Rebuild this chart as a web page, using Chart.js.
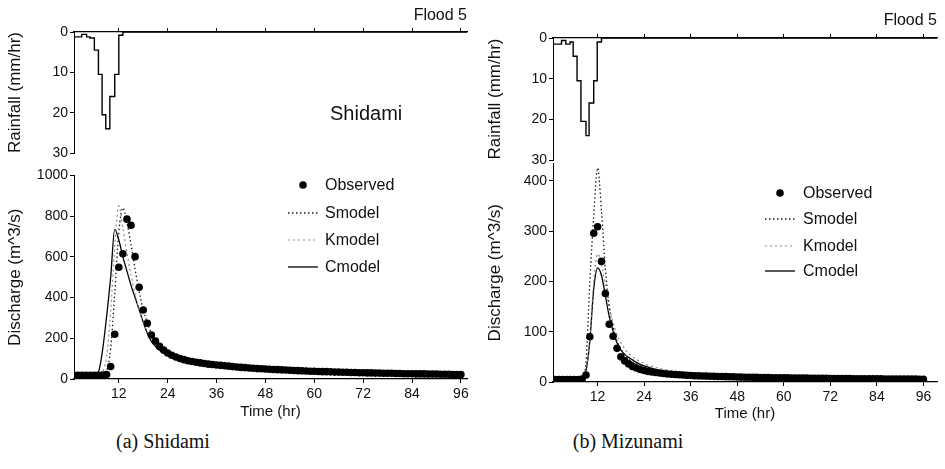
<!DOCTYPE html>
<html><head><meta charset="utf-8">
<script src="https://cdn.jsdelivr.net/npm/chart.js@4.4.1/dist/chart.umd.min.js"></script>
<style>
body{margin:0;background:#fff;width:945px;height:469px;overflow:hidden;position:relative;font-family:"Liberation Sans",Arial,sans-serif;color:#111;}
canvas{position:absolute;}
.t{position:absolute;white-space:nowrap;line-height:1;}
.cap{font-family:"Liberation Serif","DejaVu Serif",serif;font-size:20px;transform:translateX(-50%);}
</style></head><body>
<canvas id="rainA" width="480" height="165" style="left:0;top:0"></canvas>
<canvas id="flowA" width="480" height="260" style="left:0;top:165px"></canvas>
<canvas id="rainB" width="465" height="172" style="left:480px;top:0"></canvas>
<canvas id="flowB" width="465" height="275" style="left:480px;top:150px"></canvas>
<div class="t" style="right:478px;top:7px;font-size:16px">Flood 5</div>
<div class="t" style="right:8px;top:12px;font-size:16px">Flood 5</div>
<div class="t" style="left:330px;top:103px;font-size:20px">Shidami</div>
<div class="t cap" style="left:163px;top:431px">(a) Shidami</div>
<div class="t cap" style="left:628px;top:431px">(b) Mizunami</div>
<script>
// ---------------- data ----------------
const timeTicks = [12, 24, 36, 48, 60, 72, 84, 96];
const rainTicks = [0, 10, 20, 30];
const flowTicksA = [0, 200, 400, 600, 800, 1000];
const flowTicksB = [0, 100, 200, 300, 400];

// Rainfall hyetographs (start time of each step, mm/hr)
const rainTimeA = [0, 2.9, 4.1, 4.9, 6.0, 7.0, 7.9, 8.8, 9.8, 11.0, 12.0, 13.0, 13.9, 97.5];
const rainA     = [0, 1.2, 0.6, 1.2, 1.5, 4.5, 10.5, 20.5, 24, 16, 10.5, 0.8, 0, 0];
const rainTimeB = [0, 2.7, 3.8, 4.9, 5.7, 6.7, 7.7, 9.0, 9.8, 11.0, 11.9, 13.0, 14.1, 99.5];
const rainB     = [0, 1.5, 0.6, 1.5, 1.0, 4.5, 10.5, 20.5, 24, 16, 10.5, 1.0, 0, 0];

// Observed discharge, hourly 0..96
const obsHours = Array.from({length: 97}, (_, i) => i);
const obsA = [18,18,18,18,18,18,18,18,19,
  22,61,220,549,615,785,755,601,451,339,274,216,187,160,142,
  128,117,108,101,95,90,86,82,79,76,73,71,69,
  67,65,63,61,59,57,56,54,53,51,50,49,
  48,47,46,45,44,43,42,41,40,39,38,38,
  37,36,36,35,34,34,33,33,32,32,31,31,
  30,30,29,29,28,28,28,27,27,26,26,26,
  25,25,25,24,24,24,23,23,23,22,22,22];
const obsB = [5,5,5,5,5,5,5,5,6,
  14,90,296,309,240,176,115,91,67,50,42,36,31,28,25,
  23,21,20,19,18,17,16,15.5,15,14.5,14,13.5,13,
  12.5,12.2,12,11.7,11.5,11.2,11,10.8,10.6,10.4,10.2,10,
  9.8,9.6,9.5,9.3,9.2,9,8.9,8.8,8.6,8.5,8.4,8.3,
  8.2,8.1,8,7.9,7.8,7.7,7.6,7.5,7.4,7.3,7.2,7.1,
  7,6.9,6.9,6.8,6.7,6.6,6.6,6.5,6.4,6.4,6.3,6.2,
  6.2,6.1,6,6,5.9,5.9,5.8,5.8,5.7,5.7,5.6,5.6];

// Model hydrographs
const modelHours = [0,2,4,6,7,8,9,10,11,12,13,14,15,16,17,18,19,20,21,22,23,24,26,28,30,33,36,40,44,48,54,60,66,72,78,84,90,96];
const smodelA = [18,18,18,18, 18,20,40,150,420,720,840,770,660,540,430,340,275,225,190,163,143,128, 106,93,84,74,66, 58,52,47, 41,36,32,29,26,24,22,20];
const kmodelA = [18,18,18,18, 20,35,110,330,650,850,740,620,510,415,340,280,232,196,170,150,135,122, 103,91,82,72,65, 57,51,46, 40,35,31,28,26,24,22,20];
const cmodelA = [20,20,20,24, 35,140,306,500,735,683,600,530,460,400,340,280,225,185,160,141,127,116, 99,88,80,70,63, 55,49,44, 38,34,30,27,24,22,20,19];
const smodelB = [5,5,5,5, 5,7,40,200,330,426,340,225,150,108,82,65,54,46,40,36,32,29, 25,22,19,16.5,15, 13,12,11, 10,9,8.2,7.6,7,6.5,6,5.6];
const kmodelB = [5,5,5,5, 5,6,20,90,200,255,235,190,150,118,95,78,66,57,50,45,41,37, 31,27,24,20,17.5, 15,13.5,12, 10.8,9.8,9,8.2,7.5,7,6.5,6];
const cmodelB = [5,5,5,5, 6,8,22,82,185,227,212,172,130,101,78,64,55,49,44,39,35,32, 27,23,20,17.5,15.5, 13.8,12.5,11.5, 10.3,9.4,8.6,7.9,7.3,6.7,6.2,5.8];
const seriesNames = ['Observed', 'Smodel', 'Kmodel', 'Cmodel'];

// ---------------- helpers ----------------
Chart.defaults.font.family = "'Liberation Sans', Arial, Helvetica, sans-serif";
Chart.defaults.color = '#111';
Chart.defaults.animation = false;

const pts = (xs, ys) => xs.map((x, i) => ({x, y: ys[i]}));
const STYLE = {
  Observed: {showLine: false, pointRadius: 3.8, pointBackgroundColor: '#000', pointBorderWidth: 0},
  Smodel: {showLine: true, pointRadius: 0, borderColor: '#1a1a1a', borderWidth: 1.3, borderDash: [1.5, 2.5], cubicInterpolationMode: 'monotone'},
  Kmodel: {showLine: true, pointRadius: 0, borderColor: '#8a8a8a', borderWidth: 1.2, borderDash: [2, 3], cubicInterpolationMode: 'monotone'},
  Cmodel: {showLine: true, pointRadius: 0, borderColor: '#000', borderWidth: 1.3, borderDash: [], cubicInterpolationMode: 'monotone'}
};

function yAxis(min, max, ticks, title, areaLeft, reverse) {
  return {
    type: 'linear', position: 'left', min, max, reverse: !!reverse,
    afterBuildTicks: s => { s.ticks = ticks.map(v => ({value: v})); },
    afterFit: s => { s.width = areaLeft; },
    border: {display: true, color: '#000', width: 1},
    grid: {display: true, drawOnChartArea: false, drawTicks: true, tickLength: 4, color: '#000', lineWidth: 1},
    ticks: {padding: 2, font: {size: 14}, color: '#111', autoSkip: false, callback: v => String(v)},
    title: {display: true, text: title, font: {size: 17}, color: '#111', padding: {top: 5, bottom: 0}}
  };
}
function xAxis(min, max, position, height, showLabels, titleBottom) {
  return {
    type: 'linear', position, min, max,
    afterBuildTicks: s => { s.ticks = timeTicks.map(v => ({value: v})); },
    afterFit: s => { s.height = height; },
    border: {display: true, color: '#000', width: 1.2},
    grid: {display: true, drawOnChartArea: false, drawTicks: true, tickLength: 4, color: '#000', lineWidth: 1},
    ticks: {display: showLabels, padding: 3, font: {size: 14}, color: '#111', maxRotation: 0, autoSkip: false, callback: v => String(v)},
    title: {display: showLabels, text: 'Time (hr)', font: {size: 15}, color: '#111', padding: {top: 0, bottom: titleBottom || 4}}
  };
}

const legendPlugin = {
  id: 'inlineLegend',
  afterDatasetsDraw(chart, args, o) {
    if (!o || !o.ys) return;
    const ctx = chart.ctx;
    ctx.save();
    ctx.font = "16px 'Liberation Sans', Arial, sans-serif";
    ctx.fillStyle = '#111';
    ctx.textBaseline = 'middle';
    seriesNames.forEach((name, i) => {
      const y = o.ys[i], st = STYLE[name];
      if (name === 'Observed') {
        ctx.beginPath(); ctx.fillStyle = '#000';
        ctx.arc((o.x0 + o.x1) / 2, y, 3.8, 0, Math.PI * 2); ctx.fill();
      } else {
        ctx.beginPath(); ctx.setLineDash(st.borderDash); ctx.strokeStyle = st.borderColor; ctx.lineWidth = st.borderWidth;
        ctx.moveTo(o.x0, y); ctx.lineTo(o.x1, y); ctx.stroke(); ctx.setLineDash([]);
      }
      ctx.fillStyle = '#111';
      ctx.fillText(name, o.tx, y + 1);
    });
    ctx.restore();
  }
};

function rainChart(id, times, vals, w, h, area, xmin, xmax) {
  return new Chart(document.getElementById(id), {
    type: 'scatter',
    data: {datasets: [{data: pts(times, vals), showLine: true, stepped: 'after', pointRadius: 0, borderColor: '#000', borderWidth: 1.4}]},
    options: {
      responsive: false, animation: false,
      layout: {padding: {left: 0, top: 0, right: w - area.r, bottom: h - area.b}},
      plugins: {legend: {display: false}, tooltip: {enabled: false}},
      scales: {
        x: xAxis(xmin, xmax, 'top', area.t, false),
        y: yAxis(0, 30, rainTicks, 'Rainfall (mm/hr)', area.l, true)
      }
    }
  });
}
function flowChart(id, obs, s, k, c, ymax, yticks, w, h, area, xmin, xmax, legend, titleBottom) {
  const data = {Observed: pts(obsHours, obs), Smodel: pts(modelHours, s), Kmodel: pts(modelHours, k), Cmodel: pts(modelHours, c)};
  return new Chart(document.getElementById(id), {
    type: 'scatter',
    data: {datasets: seriesNames.map(n => Object.assign({label: n, data: data[n]}, STYLE[n]))},
    options: {
      responsive: false, animation: false,
      layout: {padding: {left: 0, top: area.t, right: w - area.r, bottom: 0}},
      plugins: {legend: {display: false}, tooltip: {enabled: false}, inlineLegend: legend},
      scales: {
        x: xAxis(xmin, xmax, 'bottom', h - area.b, true, titleBottom),
        y: yAxis(0, ymax, yticks, 'Discharge (m^3/s)', area.l, false)
      }
    },
    plugins: [legendPlugin]
  });
}

rainChart('rainA', rainTimeA, rainA, 480, 165, {l: 74, t: 32, r: 467, b: 153}, 1, 97.5);
rainChart('rainB', rainTimeB, rainB, 465, 172, {l: 73, t: 38, r: 457, b: 160}, 0.5, 99.5);
flowChart('flowA', obsA, smodelA, kmodelA, cmodelA, 1000, flowTicksA, 480, 260, {l: 74, t: 10, r: 467, b: 214}, 1, 97.5,
  {x0: 288, x1: 318, tx: 325, ys: [20, 48, 75, 102]}, 4);
flowChart('flowB', obsB, smodelB, kmodelB, cmodelB, 435, flowTicksB, 465, 275, {l: 73, t: 13.4, r: 457, b: 232}, 0.5, 99.5,
  {x0: 285, x1: 315, tx: 323, ys: [43, 69, 96, 121]}, 2);
</script>
</body></html>
